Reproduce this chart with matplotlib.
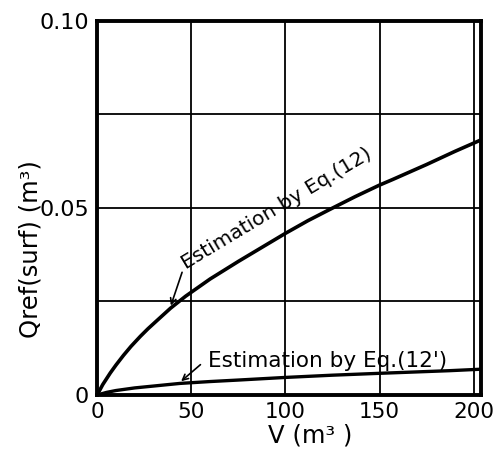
import matplotlib
matplotlib.use("Agg")
import matplotlib.pyplot as plt

# ── Data ──────────────────────────────────────────────────────
v_eq12 = [0, 3, 7, 10, 14, 18, 23, 27, 32, 39, 47, 60, 75, 88, 100, 112,
          124, 137, 150, 157, 175, 190, 204]
q_eq12 = [0, 0.0028, 0.0059, 0.0080, 0.0106, 0.0130, 0.0157, 0.0177,
          0.0200, 0.0232, 0.0264, 0.0310, 0.0357, 0.0396, 0.0432, 0.0466,
          0.0497, 0.0530, 0.0561, 0.0576, 0.0616, 0.0651, 0.0682]

v_eq12p = [0, 5, 10, 20, 30, 44, 60, 75, 100, 125, 150, 187, 204]
q_eq12p = [0, 0.0007, 0.0012, 0.0019, 0.0024, 0.0031, 0.0036, 0.0040,
           0.0047, 0.0053, 0.0058, 0.0065, 0.0069]

x_ticks = [0, 50, 100, 150, 200]
y_ticks = [0, 0.05, 0.10]
y_tick_labels = ["0", "0.05", "0.10"]
x_grid = [50, 100, 150, 200]
y_grid = [0.025, 0.05, 0.075]

# ── Figure ────────────────────────────────────────────────────
fig = plt.figure(figsize=(4.93, 4.53), dpi=100)
ax = fig.add_axes([0.197, 0.128, 0.779, 0.826])

for xg in x_grid:
    ax.axvline(xg, color="black", lw=1.3, zorder=1)
for yg in y_grid:
    ax.axhline(yg, color="black", lw=1.3, zorder=1)

ax.plot(v_eq12, q_eq12, color="black", lw=2.6, zorder=3,
        solid_joinstyle="round")
ax.plot(v_eq12p, q_eq12p, color="black", lw=2.4, zorder=3,
        solid_joinstyle="round")

ax.set_xlim(0, 204)
ax.set_ylim(0, 0.10)
ax.set_xticks(x_ticks)
ax.set_yticks(y_ticks)
ax.set_yticklabels(y_tick_labels)
ax.tick_params(axis="y", length=0, labelsize=16, pad=6)
ax.tick_params(axis="x", length=0, labelsize=15.5, pad=5)

for side in ["left", "bottom", "top", "right"]:
    ax.spines[side].set_linewidth(2.8)

ax.set_xlabel("V (m³ )", fontsize=17.5)
ax.xaxis.set_label_coords(0.555, -0.075)
ax.set_ylabel("Qref(surf) (m³)", fontsize=17.5)
ax.yaxis.set_label_coords(-0.142, 0.39)

# annotations
ax.text(47, 0.0334, "Estimation by Eq.(12)", fontsize=14.5, rotation=31,
        rotation_mode="anchor", ha="left", va="baseline")
ax.annotate("", xy=(38.7, 0.0232), xytext=(45.6, 0.0335),
            arrowprops=dict(arrowstyle="->", lw=1.2, color="black"))

ax.text(59, 0.0076, "Estimation by Eq.(12')", fontsize=15.5,
        ha="left", va="baseline")
ax.annotate("", xy=(43.5, 0.0032), xytext=(56, 0.0086),
            arrowprops=dict(arrowstyle="->", lw=1.2, color="black"))

fig.savefig("out.png", dpi=100)
